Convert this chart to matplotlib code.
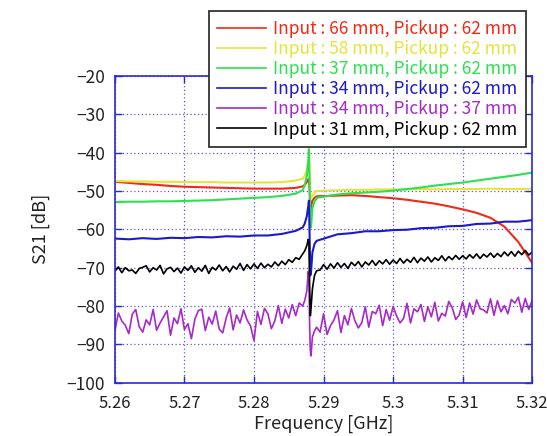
import matplotlib
matplotlib.use('Agg')
import matplotlib.pyplot as plt
from matplotlib.ticker import FuncFormatter, MultipleLocator

plt.rcParams['font.family'] = ['Noto Sans CJK JP', 'DejaVu Sans']

# coarse frequency grid (GHz) for the smooth traces
freq_c = [5.260, 5.262, 5.264, 5.266, 5.268, 5.270, 5.272, 5.274, 5.276, 5.278,
          5.280, 5.282, 5.284, 5.286,
          5.2870, 5.2873, 5.2876, 5.2878, 5.2879, 5.2880, 5.2881, 5.2882, 5.2884, 5.2887, 5.2890,
          5.292, 5.294, 5.296, 5.298, 5.300, 5.302, 5.304, 5.306, 5.308, 5.310,
          5.312, 5.314, 5.316, 5.318, 5.320]

s21_66_62 = [-47.6, -47.9, -48.2, -48.4, -48.7, -48.9, -49.0, -49.1, -49.2, -49.3,
             -49.4, -49.4, -49.4, -49.2,
             -48.8, -48.4, -47.7, -47.0, -46.8, -50.0, -55.0, -54.0, -52.5, -51.8, -51.4,
             -51.2, -51.1, -51.3, -51.6, -51.9, -52.3, -52.8, -53.3, -54.0, -54.8,
             -55.7, -57.0, -59.3, -63.3, -68.8]

s21_58_62 = [-47.4, -47.5, -47.5, -47.6, -47.6, -47.7, -47.7, -47.7, -47.8, -47.8,
             -47.8, -47.8, -47.7, -47.3,
             -46.8, -46.0, -44.5, -42.0, -38.7, -45.0, -51.0, -51.8, -51.3, -50.5, -50.0,
             -49.8, -49.7, -49.7, -49.6, -49.6, -49.6, -49.5, -49.6, -49.5, -49.5,
             -49.5, -49.4, -49.5, -49.5, -49.4]

s21_37_62 = [-52.9, -52.8, -52.8, -52.7, -52.7, -52.6, -52.5, -52.4, -52.2, -52.0,
             -51.8, -51.6, -51.3, -50.7,
             -49.8, -48.5, -46.0, -42.5, -39.2, -48.0, -58.0, -59.5, -54.5, -52.8, -51.8,
             -50.9, -50.6, -50.4, -50.2, -49.9, -49.5, -49.1, -48.6, -48.2, -47.8,
             -47.3, -46.8, -46.3, -45.8, -45.2]

s21_34_62 = [-62.4, -62.6, -62.3, -62.5, -62.2, -62.3, -62.0, -62.1, -61.8, -61.9,
             -61.6, -61.6, -61.2, -60.4,
             -59.5, -58.5, -56.5, -54.0, -52.5, -62.0, -72.0, -71.0, -66.0, -63.8, -63.0,
             -61.3, -61.0, -60.5, -60.5, -60.2, -60.1, -59.7, -59.6, -59.2, -59.1,
             -58.6, -58.5, -58.0, -58.0, -57.6]

# fine frequency grid (GHz) for the noisy traces
freq_f = [5.2600, 5.2605, 5.2610, 5.2615, 5.2620, 5.2625, 5.2630, 5.2635, 5.2640, 5.2645,
          5.2650, 5.2655, 5.2660, 5.2665, 5.2670, 5.2675, 5.2680, 5.2685, 5.2690, 5.2695,
          5.2700, 5.2705, 5.2710, 5.2715, 5.2720, 5.2725, 5.2730, 5.2735, 5.2740, 5.2745,
          5.2750, 5.2755, 5.2760, 5.2765, 5.2770, 5.2775, 5.2780, 5.2785, 5.2790, 5.2795,
          5.2800, 5.2805, 5.2810, 5.2815, 5.2820, 5.2825, 5.2830, 5.2835, 5.2840, 5.2845,
          5.2850, 5.2855, 5.2860, 5.2865,
          5.2870, 5.2873, 5.2876, 5.2878, 5.2879, 5.2880, 5.2881, 5.2882, 5.2884, 5.2887, 5.2890,
          5.2895, 5.2900, 5.2905, 5.2910, 5.2915, 5.2920, 5.2925, 5.2930, 5.2935, 5.2940,
          5.2945, 5.2950, 5.2955, 5.2960, 5.2965, 5.2970, 5.2975, 5.2980, 5.2985, 5.2990,
          5.2995, 5.3000, 5.3005, 5.3010, 5.3015, 5.3020, 5.3025, 5.3030, 5.3035, 5.3040,
          5.3045, 5.3050, 5.3055, 5.3060, 5.3065, 5.3070, 5.3075, 5.3080, 5.3085, 5.3090,
          5.3095, 5.3100, 5.3105, 5.3110, 5.3115, 5.3120, 5.3125, 5.3130, 5.3135, 5.3140,
          5.3145, 5.3150, 5.3155, 5.3160, 5.3165, 5.3170, 5.3175, 5.3180, 5.3185, 5.3190,
          5.3195, 5.3200]

s21_34_37 = [-86.5, -81.8, -83.9, -85.0, -87.2, -82.1, -80.9, -85.4, -86.8, -83.6,
             -84.9, -80.9, -86.3, -84.4, -82.8, -81.2, -87.6, -83.1, -84.6, -80.7,
             -86.1, -84.6, -88.5, -83.4, -81.2, -80.8, -86.4, -82.9, -84.7, -81.3,
             -86.0, -87.0, -83.1, -80.5, -86.2, -82.3, -84.4, -81.0, -83.6, -85.2,
             -89.0, -81.4, -84.8, -80.6, -82.0, -85.9, -83.8, -79.9, -84.5, -80.8,
             -83.1, -79.6, -82.5, -79.2,
             -80.0, -78.5, -76.0, -71.0, -73.0, -85.0, -91.5, -93.0, -88.0, -86.5, -85.5,
             -86.8, -82.0, -87.4, -85.1, -83.6, -81.2, -86.9, -82.5, -84.9, -80.6,
             -83.8, -85.7, -84.3, -80.2, -85.5, -81.4, -82.0, -79.8, -85.1, -80.9,
             -83.7, -80.1, -82.6, -84.4, -83.2, -79.3, -84.4, -80.7, -81.5, -79.6,
             -84.0, -80.2, -82.8, -79.0, -83.9, -81.9, -82.6, -78.8, -80.4, -83.5,
             -82.3, -78.9, -83.0, -79.2, -82.1, -78.4, -80.7, -81.0, -81.8, -78.1,
             -82.4, -78.6, -81.5, -79.9, -82.0, -78.3, -79.2, -77.7, -81.6, -78.0,
             -80.9, -78.5]

s21_31_62 = [-70.9, -69.8, -71.3, -70.0, -70.8, -70.6, -71.5, -70.2, -69.9, -69.5,
             -71.1, -70.0, -70.6, -69.4, -71.6, -70.3, -69.9, -71.0, -70.1, -71.4,
             -69.8, -70.7, -69.5, -71.2, -70.0, -70.9, -69.4, -71.5, -69.9, -70.6,
             -69.3, -70.8, -69.7, -71.1, -69.6, -70.4, -68.9, -70.7, -69.2, -70.3,
             -69.0, -70.2, -68.8, -70.0, -69.1, -69.8, -68.5, -69.5, -68.3, -69.2,
             -67.9, -68.6, -67.4, -67.8,
             -66.4, -65.6, -64.2, -62.6, -63.5, -75.0, -82.5, -80.5, -75.5, -72.0, -70.8,
             -70.6, -69.2, -70.4, -69.0, -70.1, -68.7, -69.9, -68.9, -70.2, -68.6,
             -69.5, -68.4, -69.8, -68.5, -69.3, -68.1, -69.4, -68.2, -69.0, -67.9,
             -69.1, -68.0, -68.9, -67.6, -68.8, -67.8, -68.6, -67.3, -68.7, -67.5,
             -68.3, -67.2, -68.5, -67.4, -68.1, -66.9, -68.2, -67.1, -67.9, -66.8,
             -67.8, -66.9, -67.7, -66.6, -67.5, -66.4, -67.6, -66.5, -67.2, -66.2,
             -67.3, -66.3, -67.1, -65.9, -66.9, -65.8, -67.0, -65.7, -66.6, -65.5,
             -66.7, -65.9]

labels = ['Input : 66 mm, Pickup : 62 mm',
          'Input : 58 mm, Pickup : 62 mm',
          'Input : 37 mm, Pickup : 62 mm',
          'Input : 34 mm, Pickup : 62 mm',
          'Input : 34 mm, Pickup : 37 mm',
          'Input : 31 mm, Pickup : 62 mm']
colors = ['#f02a14', '#e4e43c', '#2ee050', '#1a1acc', '#a62ac8', '#000000']

fig = plt.figure(figsize=(5.47, 4.36), dpi=100)
ax = fig.add_axes([0.210, 0.122, 0.763, 0.704])

ax.plot(freq_c, s21_66_62, color=colors[0], lw=1.5, label=labels[0])
ax.plot(freq_c, s21_58_62, color=colors[1], lw=1.5, label=labels[1])
ax.plot(freq_c, s21_37_62, color=colors[2], lw=1.5, label=labels[2])
ax.plot(freq_c, s21_34_62, color=colors[3], lw=1.5, label=labels[3])
ax.plot(freq_f, s21_34_37, color=colors[4], lw=1.2, label=labels[4])
ax.plot(freq_f, s21_31_62, color=colors[5], lw=1.2, label=labels[5])

ax.set_xlim(5.26, 5.32)
ax.set_ylim(-100, -20)
ax.xaxis.set_major_locator(MultipleLocator(0.01))
ax.yaxis.set_major_locator(MultipleLocator(10))
ax.xaxis.set_major_formatter(FuncFormatter(lambda v, p: '%g' % round(v, 3)))

axis_blue = '#2a2ad0'
for sp in ax.spines.values():
    sp.set_color(axis_blue)
    sp.set_linewidth(1.2)
ax.tick_params(direction='in', top=True, right=True, color=axis_blue,
               length=5, width=1, labelsize=12.5, labelcolor='#222222')
ax.tick_params(axis='x', pad=9, labelsize=12)
ax.tick_params(axis='y', pad=7)
ax.grid(True, color='#5a5ae0', linestyle=(0, (1, 2)), linewidth=0.9)

ax.set_xlabel('Frequency [GHz]', fontsize=13, color='#222222', labelpad=2)
ax.set_ylabel('S21 [dB]', fontsize=13, color='#222222', labelpad=12)

leg = ax.legend(loc='upper right', bbox_to_anchor=(0.985, 1.21), fontsize=12.5,
                labelcolor='linecolor', frameon=True, fancybox=False, shadow=False,
                handlelength=2.8, handletextpad=0.4, labelspacing=0.12,
                borderpad=0.5, borderaxespad=0)
leg.get_frame().set_edgecolor('#222222')
leg.get_frame().set_linewidth(1.2)
leg.get_frame().set_alpha(1)
for h in leg.get_lines():
    h.set_linewidth(1.2)

fig.savefig('out.png', dpi=100)
